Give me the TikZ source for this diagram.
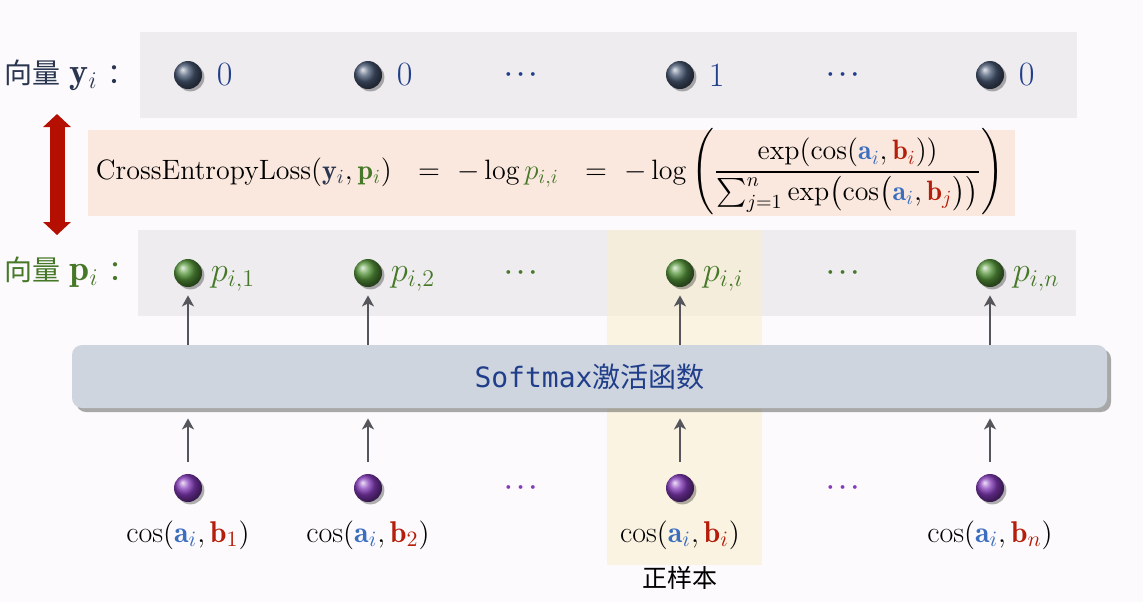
\documentclass[tikz,border=0pt]{standalone}
\usepackage{amsmath}
\usepackage{fontspec}
\newfontfamily\cjk{Noto Sans CJK SC}
\newfontfamily\monof{DejaVu Sans Mono}
\usetikzlibrary{shadows,arrows.meta}
\definecolor{bgc}{RGB}{252,250,252}
\definecolor{grayc}{RGB}{238,236,239}
\definecolor{peach}{RGB}{250,232,222}
\definecolor{yellowc}{RGB}{250,238,200}
\definecolor{barc}{RGB}{207,213,223}
\definecolor{navy}{RGB}{32,62,138}
\definecolor{labnavy}{RGB}{42,53,80}
\definecolor{ballnavy}{RGB}{72,88,115}
\definecolor{gtext}{RGB}{70,120,40}
\definecolor{gball}{RGB}{86,150,58}
\definecolor{pball}{RGB}{132,58,186}
\definecolor{ablue}{RGB}{60,110,192}
\definecolor{bred}{RGB}{180,30,10}
\definecolor{arrc}{RGB}{85,85,92}
\definecolor{redarr}{RGB}{180,15,0}
\newcommand{\va}{\mathbf{\color{ablue}a}_{\color{ablue}i}}
\newcommand{\vb}[1]{\mathbf{\color{bred}b}_{\color{bred}#1}}
\begin{document}
\begin{tikzpicture}[x=0.5pt,y=-0.5pt,
  ball/.style={circle,inner sep=0pt,minimum size=14pt,shading=ball,
    drop shadow={shadow xshift=1.2pt,shadow yshift=-1.2pt,opacity=0.3,fill=black}},
  nball/.style={ball,ball color=ballnavy},
  gballs/.style={ball,ball color=gball},
  pballs/.style={ball,ball color=pball},
  zero/.style={anchor=west,inner sep=0pt,text=navy,font=\fontsize{17}{20}\selectfont},
  plab/.style={anchor=west,inner sep=0pt,text=gtext,font=\fontsize{18}{21}\selectfont},
  dotsn/.style={inner sep=0pt,font=\fontsize{12}{14}\selectfont\boldmath},
  coslab/.style={inner sep=0pt,font=\fontsize{15}{18}\selectfont},
  arr/.style={draw=arrc,line width=1pt,-{Stealth[length=5.5pt,width=6pt,inset=1.5pt]}},
  rowlab/.style={anchor=west,inner sep=0pt,font=\fontsize{14}{17}\selectfont}
]
\fill[bgc] (0,0) rectangle (1143,602);
\useasboundingbox (0,0) rectangle (1143,602);
% row backgrounds
\fill[grayc] (140,32) rectangle (1077,118);
\fill[peach] (88,130) rectangle (1015,216);
\fill[grayc] (138,230) rectangle (1076,316);
\fill[yellowc,opacity=.5] (607,230) rectangle (762,565);
% softmax bar
\node (bar) [rounded corners=5pt,fill=barc,minimum width=517.5pt,minimum height=31.5pt,inner sep=0pt,
  drop shadow={shadow xshift=2pt,shadow yshift=-2pt,opacity=0.55,fill=black!60},
  text=navy,font=\fontsize{14}{17}\selectfont] at (589.5,376.5) {{\monof Softmax}{\cjk 激活函数}};
% row labels
\node (ylab) [rowlab,text=labnavy] at (4,75) {{\cjk 向量} {\fontsize{18}{20}\selectfont$\mathbf{y}_i$}\hspace{5pt}{\cjk ：}};
\node (plab) [rowlab,text=gtext] at (4,272) {{\cjk 向量} {\fontsize{18}{20}\selectfont$\mathbf{p}_i$}\hspace{5pt}{\cjk ：}};
% y row
\node (y1) [nball] at (188,75) {};
\node (y2) [nball] at (368,75) {};
\node (yi) [nball] at (680,75) {};
\node (yn) [nball] at (990,75) {};
\node (y1l) [zero] at ([xshift=7pt]y1.east) {0};
\node (y2l) [zero] at ([xshift=7pt]y2.east) {0};
\node (yil) [zero] at ([xshift=7pt]yi.east) {1};
\node (ynl) [zero] at ([xshift=7pt]yn.east) {0};
\node (yd1) [dotsn,text=navy] at (523,75) {$\cdots$};
\node (yd2) [dotsn,text=navy] at (845,75) {$\cdots$};
% formula
\node (loss) [inner sep=0pt,font=\fontsize{14}{17}\selectfont] at (550,172)
 {CrossEntropyLoss$(\mathbf{\color{labnavy}y}_{\color{labnavy}i},\mathbf{\color{gtext}p}_{\color{gtext}i})\ \ =\ -\log {\color{gtext}p_{i,i}}\ \ =\ -\log\left(\dfrac{\exp(\cos(\va,\vb{i}))}{\sum_{j=1}^{n}\exp\bigl(\cos\bigl(\va,\vb{j}\bigr)\bigr)}\right)$};
% red double arrow
\coordinate (rtop) at (57,114);
\coordinate (rbot) at (57,235);
\draw[redarr,line width=7.5pt,{Triangle[length=6.5pt,width=13.5pt]}-{Triangle[length=6.5pt,width=13.5pt]}] (rtop) -- (rbot);
% p row
\node (p1) [gballs] at (188,273) {};
\node (p2) [gballs] at (368,273) {};
\node (pi) [gballs] at (680,273) {};
\node (pn) [gballs] at (990,273) {};
\node (p1l) [plab] at ([xshift=4pt,yshift=-3pt]p1.east) {$p_{i,1}$};
\node (p2l) [plab] at ([xshift=4pt,yshift=-3pt]p2.east) {$p_{i,2}$};
\node (pil) [plab] at ([xshift=4pt,yshift=-3pt]pi.east) {$p_{i,i}$};
\node (pnl) [plab] at ([xshift=4pt,yshift=-3pt]pn.east) {$p_{i,n}$};
\node (pd1) [dotsn,text=gtext] at (523,273) {$\cdots$};
\node (pd2) [dotsn,text=gtext] at (845,273) {$\cdots$};
% cos row
\node (c1) [pballs] at (188,488) {};
\node (c2) [pballs] at (368,488) {};
\node (ci) [pballs] at (680,488) {};
\node (cn) [pballs] at (990,488) {};
\node (cd1) [dotsn,text=pball] at (523,488) {$\cdots$};
\node (cd2) [dotsn,text=pball] at (845,488) {$\cdots$};
\node (c1l) [coslab] at (188,535) {$\cos(\va,\vb{1})$};
\node (c2l) [coslab] at (368,535) {$\cos(\va,\vb{2})$};
\node (cil) [coslab] at (680,535) {$\cos(\va,\vb{i})$};
\node (cnl) [coslab] at (990,535) {$\cos(\va,\vb{n})$};
\node (pos) [inner sep=0pt,font=\cjk\fontsize{12.5}{15}\selectfont] at (680,578) {正样本};
% arrows
\foreach \n in {1,2,i,n}{
  \draw[arr,shorten >=4pt] (p\n |- bar.north) -- (p\n);
  \draw[arr,shorten <=6pt,shorten >=5pt] (c\n) -- (c\n |- bar.south);
}
\end{tikzpicture}
\end{document}
